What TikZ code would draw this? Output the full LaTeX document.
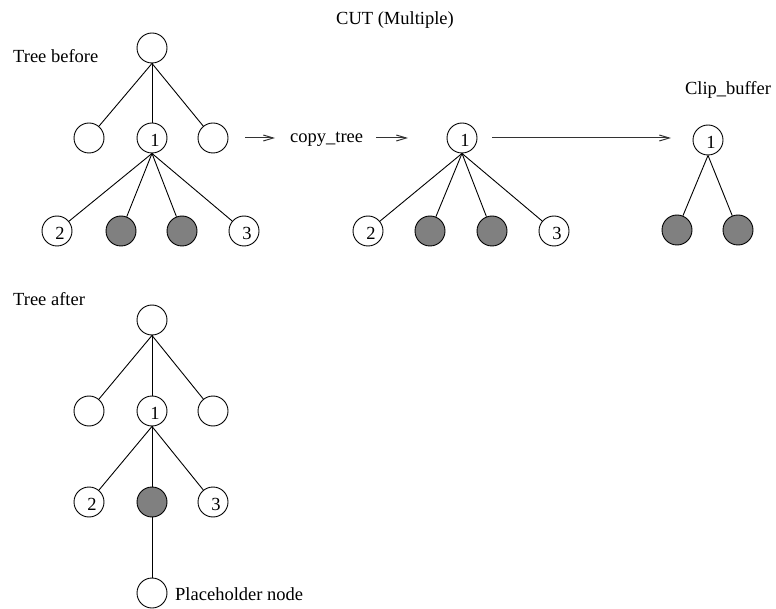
\documentclass[tikz,border=0pt]{standalone}
\usepackage{fontspec}
\setmainfont{Liberation Serif}
\usetikzlibrary{arrows.meta}
\definecolor{shade}{HTML}{808080}
\begin{document}
\begin{tikzpicture}[x=1pt,y=-1pt,
  font=\fontsize{18.5pt}{22pt}\selectfont,
  vertex/.style={circle,draw,line width=0.9pt,minimum size=30pt,inner sep=0pt},
  cut/.style={vertex,fill=shade},
  num label/.style={xshift=3pt,yshift=-2pt,inner sep=0pt},
  num/.style={label={[num label]center:#1}},
  edge/.style={line width=0.9pt},
  flow/.style={line width=1pt,draw=black!80,-{Straight Barb[length=10pt,width=6pt,line width=1pt]}},
  caption/.style={inner sep=0pt,anchor=west}]
\useasboundingbox (0,0) rectangle (776,609);

% title
\node[inner sep=0pt] (title) at (395,20) {CUT (Multiple)};

% tree before the cut
\node[caption] (before) at (13,56) {Tree before};
\node[vertex] (r) at (152,48) {};
\node[vertex] (a) at (89,138) {};
\node[vertex,num=1] (b) at (152,138) {};
\node[vertex] (c) at (213,138) {};
\node[vertex,num=2] (b1) at (57,231) {};
\node[cut] (b2) at (121,231) {};
\node[cut] (b3) at (182,231) {};
\node[vertex,num=3] (b4) at (244,231) {};
\foreach \n in {a,b,c} \draw[edge] (r.south) -- (\n);
\foreach \n in {b1,b2,b3,b4} \draw[edge] (b.south) -- (\n);

% copy step
\coordinate (f1s) at (245,138);
\coordinate (f1e) at (275,138);
\draw[flow] (f1s) -- (f1e);
\node[caption] (copy) at (290,139) {copy\_tree};
\coordinate (f2s) at (376,138);
\coordinate (f2e) at (408,138);
\draw[flow] (f2s) -- (f2e);

% copied subtree
\node[vertex,num=1] (m) at (462,138) {};
\node[vertex,num=2] (m1) at (368,231) {};
\node[cut] (m2) at (430,231) {};
\node[cut] (m3) at (492,231) {};
\node[vertex,num=3] (m4) at (554,231) {};
\foreach \n in {m1,m2,m3,m4} \draw[edge] (m.south) -- (\n);

% clip buffer
\draw[flow] (m.east) ++(15,0) coordinate (f3s) -- (671,138);
\node[inner sep=0pt] (clip) at (728,90) {Clip\_buffer};
\node[vertex,num=1] (k) at (708,140) {};
\node[cut] (k1) at (677,230) {};
\node[cut] (k2) at (738,230) {};
\foreach \n in {k1,k2} \draw[edge] (k.south) -- (\n);

% tree after the cut
\node[caption] (after) at (13,299) {Tree after};
\node[vertex] (s) at (152,320) {};
\node[vertex] (sa) at (89,411) {};
\node[vertex,num=1] (sb) at (152,411) {};
\node[vertex] (sc) at (213,411) {};
\node[vertex,num=2] (t1) at (89,502) {};
\node[cut] (t2) at (152,502) {};
\node[vertex,num=3] (t3) at (213,502) {};
\node[vertex] (p) at (152,593) {};
\node[caption] (ptext) at (175,594) {Placeholder node};
\foreach \n in {sa,sb,sc} \draw[edge] (s.south) -- (\n);
\foreach \n in {t1,t2,t3} \draw[edge] (sb.south) -- (\n);
\draw[edge] (t2) -- (p);
\end{tikzpicture}
\end{document}
